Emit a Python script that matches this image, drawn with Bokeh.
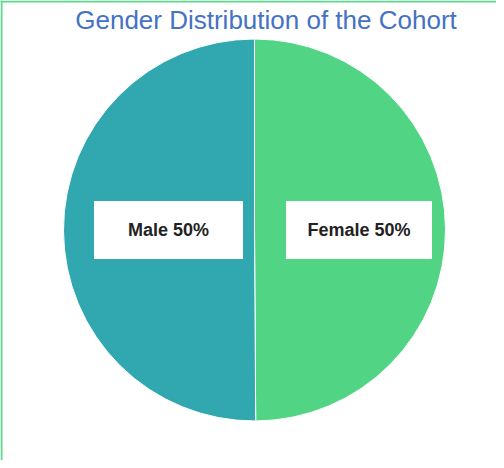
import math
from bokeh.plotting import figure
from bokeh.models import Range1d, Label, ColumnDataSource
from bokeh.core.properties import value
from bokeh.embed import file_html
from bokeh.resources import INLINE

# ---- data ----
categories = ["Female", "Male"]
shares = [49.9, 50.1]
label_texts = ["Female 50%", "Male 50%"]
colors = ["#51D484", "#31A8AF"]
title_text = "Gender Distribution of the Cohort"

# ---- layout (pixel-like data units) ----
W, H = 496, 460
CX, CY = 254, 230.5
R = 191

p = figure(width=W, height=H, output_backend="svg", toolbar_location=None,
           x_range=Range1d(0, W), y_range=Range1d(0, H), min_border=0)
p.axis.visible = False
p.grid.visible = False
p.outline_line_color = None
p.background_fill_color = "white"
p.border_fill_color = "white"

# left and top border lines
p.vspan(x=[1], line_color="#5DD88E", line_width=2)
p.hspan(y=[H - 1], line_color="#5DD88E", line_width=2)

# wedges, clockwise from 12 o'clock
total = sum(shares)
starts, ends = [], []
a = math.pi / 2
for s in shares:
    span = 2 * math.pi * s / total
    starts.append(a)
    ends.append(a - span)
    a -= span

src = ColumnDataSource(dict(cat=categories, start=starts, end=ends, color=colors))
p.wedge(x=CX, y=CY, radius=R, start_angle="start", end_angle="end",
        direction="clock", fill_color="color", line_color="white",
        line_width=1, source=src)

# label boxes
box_x = [CX + 104.5, CX - 86]
box_w = [146, 149]
lsrc = ColumnDataSource(dict(x=box_x, y=[CY, CY], w=box_w, t=label_texts))
p.rect(x="x", y="y", width="w", height=58, fill_color="white",
       line_color=None, source=lsrc)
p.text(x="x", y="y", text="t", text_align="center", text_baseline="middle",
       text_font=value("Liberation Sans"), text_font_style="bold",
       text_font_size="18px", text_color="#222222", source=lsrc)

# title
p.add_layout(Label(x=265.5, y=441, text=title_text, text_align="center",
                   text_baseline="middle", text_font="Liberation Sans",
                   text_font_size="26px", text_color="#4472C4"))

open("out.html", "w").write(file_html(p, INLINE))
